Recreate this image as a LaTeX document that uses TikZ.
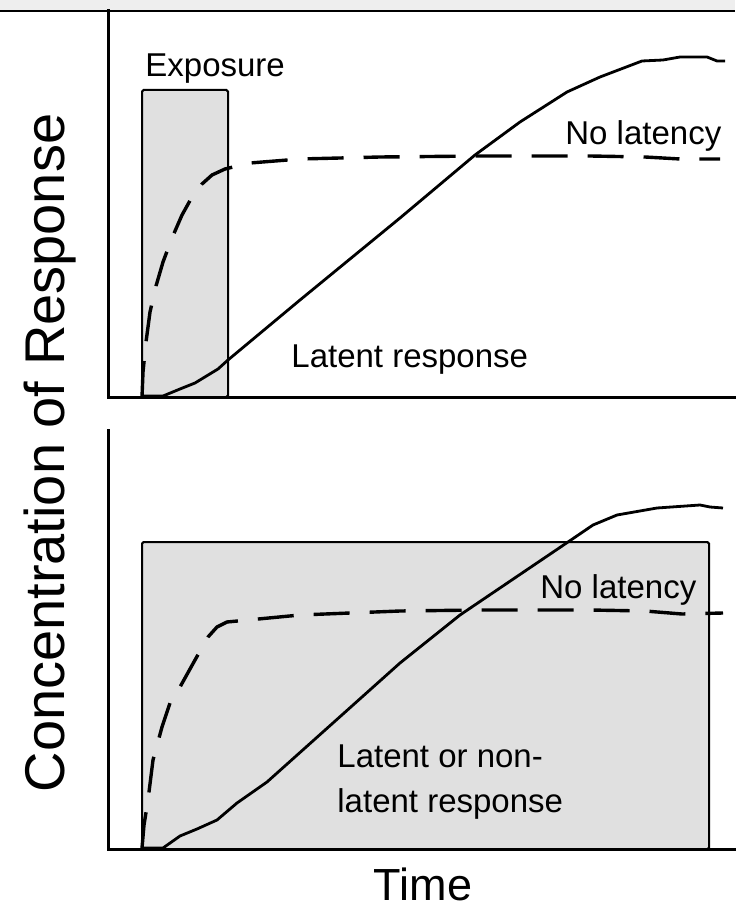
\documentclass[tikz,border=0pt]{standalone}
\usepackage{fontspec}
\setmainfont{Liberation Sans}
\usepackage{xcolor}
\usepackage{tikz}

\definecolor{bandgray}{HTML}{EEEEEE}
\definecolor{expogray}{HTML}{E0E0E0}

\begin{document}
\begin{tikzpicture}[x=0.5pt, y=-0.5pt,
        axis/.style={line width=1.5pt, line cap=rect},
        expo/.style={draw, fill=expogray, line width=1pt, rounded corners=0.8pt},
        resp/.style={line width=1.4pt, line join=round},
        nolat/.style={line width=1.7pt, line join=round, dash pattern=on 18pt off 10pt},
        lbl/.style={inner sep=0pt, font=\fontsize{16.5pt}{22.5pt}\selectfont}]
        \useasboundingbox (0,0) rectangle (735,908);

        % Top band
        \fill[bandgray] (0,0) rectangle (735,10);
        \draw[line width=1pt] (0,11) -- (735,11);

        % Exposure periods
        \draw[expo] (142,397) rectangle (228,90);
        \draw[expo] (142,849) rectangle (709,542);

        % Axes
        \draw[axis] (108,11) -- (108,397) -- (735,397);
        \draw[axis] (108,430) -- (108,849) -- (735,849);

        % Short exposure: curves
        \draw[nolat] plot coordinates {(142,397) (143,372) (146,342) (150,312) (156,286) (163,262)
            (172,238) (182,215) (192,197) (202,184) (212,175) (225,169) (250,163) (300,159)
            (380,157) (480,156) (590,156) (645,157) (680,159) (720,159)};
        \draw[resp] plot coordinates {(142,396) (163,396) (180,389) (195,383) (218,369) (228,360)
            (300,300) (400,218) (475,155) (520,122) (567,92) (600,77) (642,61) (663,60)
            (680,57) (707,57) (717,61) (725,61)};

        % Long exposure: curves
        \draw[nolat] plot coordinates {(142,848) (144,825) (148,800) (153,760) (162,727) (170,703)
            (180,687) (195,660) (208,637) (217,627) (227,622) (300,615) (400,611)
            (480,610) (590,610) (645,611) (682,614) (723,613)};
        \draw[resp] plot coordinates {(142,848) (163,848) (180,836) (197,829) (217,820) (237,803)
            (267,782) (400,663) (450,623) (460,615) (568,542) (593,525) (617,515)
            (657,508) (700,505) (710,507) (723,508)};

        % Labels
        \node[lbl, anchor=base west] (exposure) at (145,77) {Exposure};
        \node[lbl, anchor=base west] (nolattop) at (565,145) {No latency};
        \node[lbl, anchor=base west] (latent) at (291,367) {Latent response};
        \node[lbl, anchor=base west] (nolatbot) at (540,598) {No latency};
        \node[lbl, anchor=base west, align=left] (either) at (337,812) {Latent or non-\\latent response};

        % Axis titles
        \node[inner sep=0pt, anchor=base, font=\fontsize{22.5pt}{26pt}\selectfont] (time) at (423,900) {Time};
        \node[inner sep=0pt, anchor=base, rotate=90, font=\fontsize{28pt}{32pt}\selectfont] (conc) at (64,453) {Concentration of Response};
    \end{tikzpicture}
\end{document}
